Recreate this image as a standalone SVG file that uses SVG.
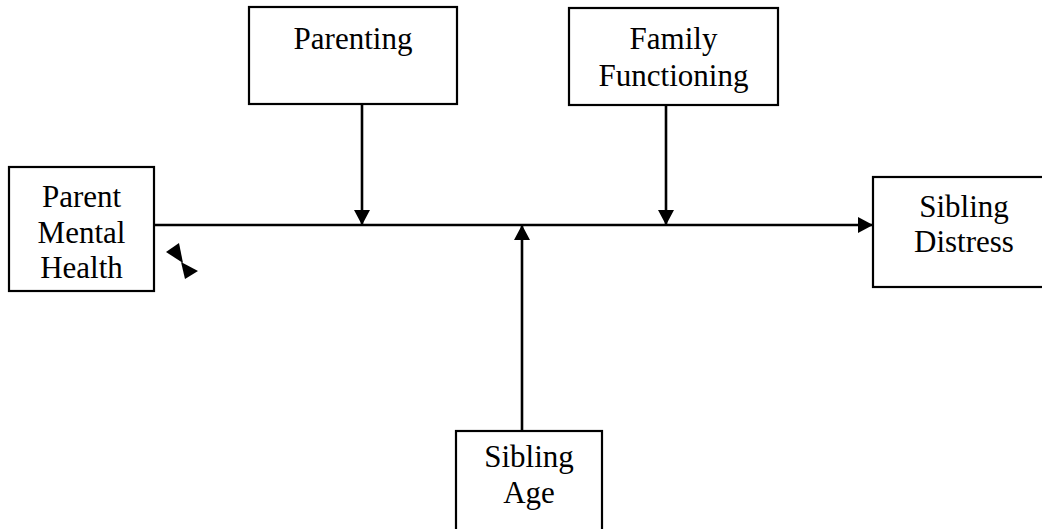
<svg xmlns="http://www.w3.org/2000/svg" width="1042" height="529" viewBox="0 0 1042 529">
<defs>
<style>
.box{fill:#fff;stroke:#000;stroke-width:2.2}
.lbl{font-family:"Liberation Serif","Times New Roman",serif;font-size:31px;fill:#000;text-anchor:middle}
.ln{stroke:#000;stroke-width:2.6;fill:none}
</style>
<marker id="ah" viewBox="0 0 15 16" refX="15" refY="8" markerWidth="15" markerHeight="16" markerUnits="userSpaceOnUse" orient="auto">
<path d="M0,0 L15,8 L0,16 Z" fill="#000"/>
</marker>
</defs>
<rect width="1042" height="529" fill="#fff"/>
<g id="connectors">
<line class="ln" x1="154" y1="225" x2="873" y2="225" marker-end="url(#ah)"/>
<line class="ln" x1="362" y1="104" x2="362" y2="225" marker-end="url(#ah)"/>
<line class="ln" x1="666" y1="105" x2="666" y2="225" marker-end="url(#ah)"/>
<line class="ln" x1="522" y1="431" x2="522" y2="225" marker-end="url(#ah)"/>
</g>
<g id="parent-mental-health">
<rect class="box" x="9" y="167" width="145" height="124"/>
<text class="lbl" x="81.5" y="207">Parent</text>
<text class="lbl" x="81.5" y="243">Mental</text>
<text class="lbl" x="81.5" y="278">Health</text>
</g>
<g id="marker-glyph">
<polygon points="166,252 179,243 183,263" fill="#000"/>
<polygon points="181,262 198,271 185,279" fill="#000"/>
</g>
<g id="parenting">
<rect class="box" x="249" y="7" width="208" height="97"/>
<text class="lbl" x="353" y="49">Parenting</text>
</g>
<g id="family-functioning">
<rect class="box" x="569" y="8" width="209" height="97"/>
<text class="lbl" x="673.5" y="49">Family</text>
<text class="lbl" x="673.5" y="86">Functioning</text>
</g>
<g id="sibling-distress">
<rect class="box" x="873" y="177" width="182" height="110"/>
<text class="lbl" x="964" y="217">Sibling</text>
<text class="lbl" x="964" y="252">Distress</text>
</g>
<g id="sibling-age">
<rect class="box" x="456" y="431" width="146" height="110"/>
<text class="lbl" x="529" y="467">Sibling</text>
<text class="lbl" x="529" y="503">Age</text>
</g>
</svg>
